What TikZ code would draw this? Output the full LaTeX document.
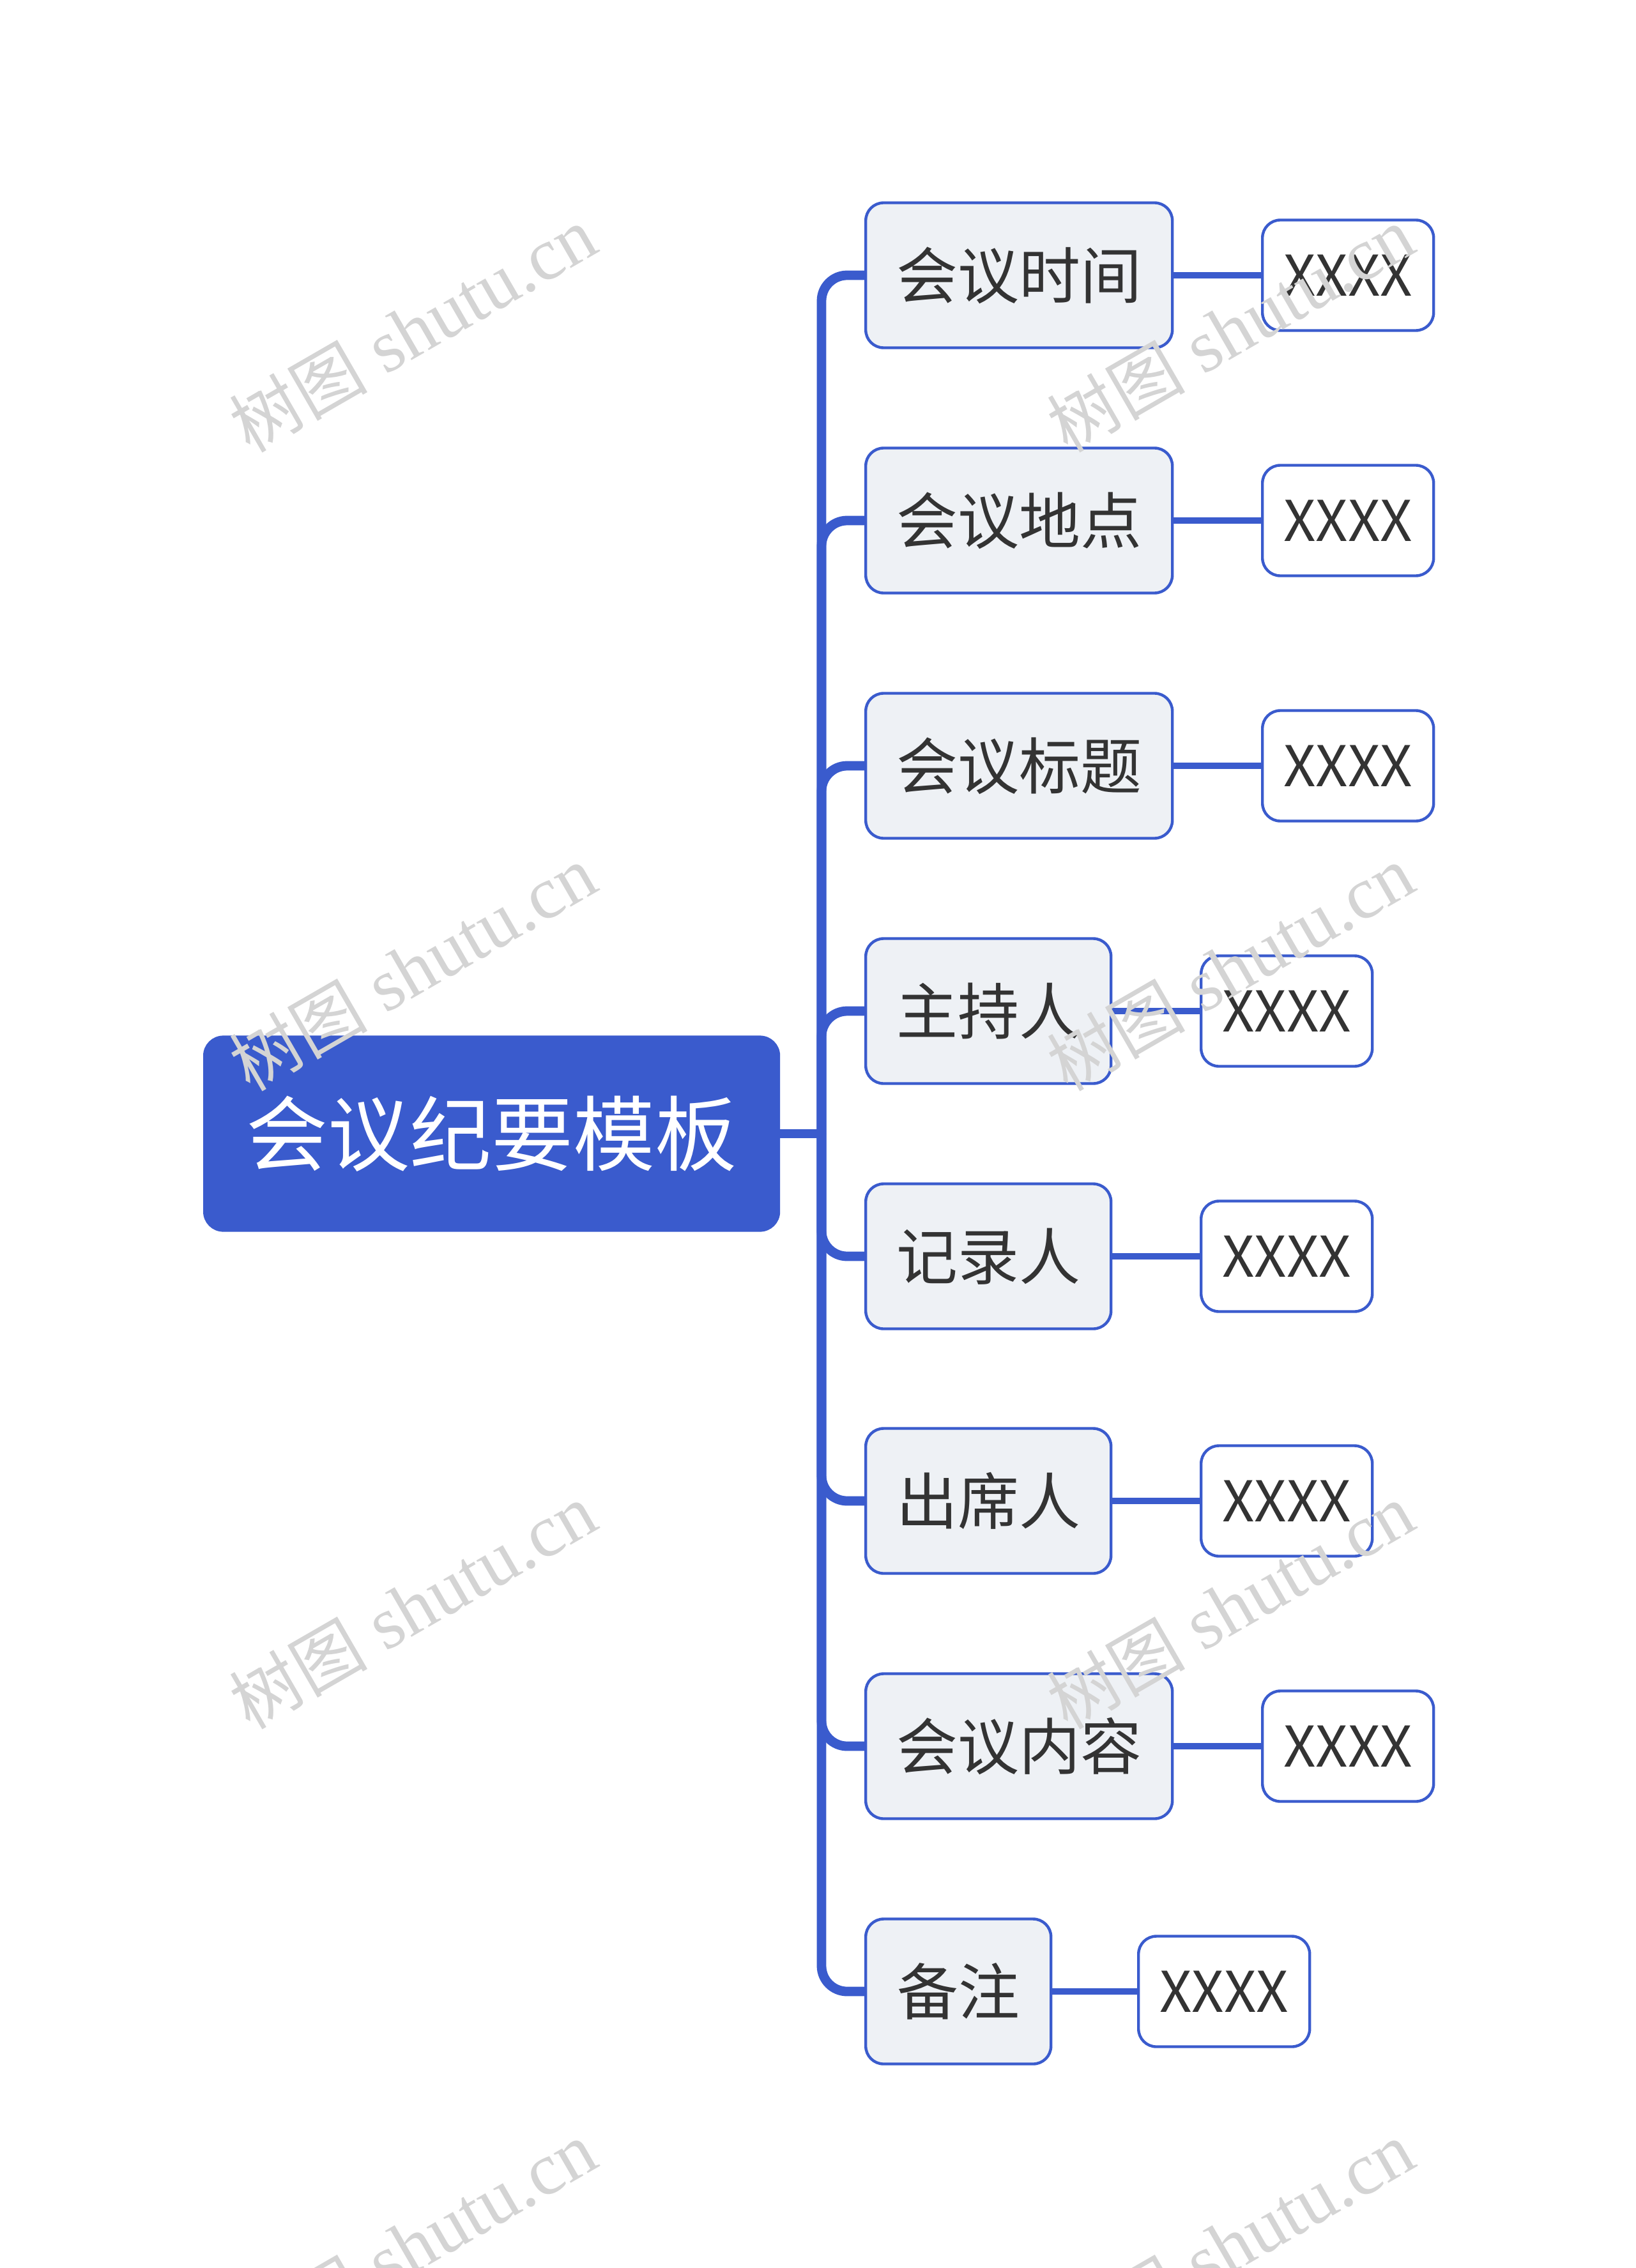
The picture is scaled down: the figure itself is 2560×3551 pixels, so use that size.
\documentclass[tikz,border=0pt]{standalone}
\usepackage{fontspec}
\usetikzlibrary{backgrounds}
\setmainfont{Liberation Serif}
\newfontfamily\cjk{Noto Sans CJK SC}
\definecolor{mblue}{HTML}{3A5BCD}
\definecolor{bfill}{HTML}{EEF1F5}
\definecolor{tdark}{HTML}{333333}
\definecolor{wmark}{HTML}{D4D4D4}
\tikzset{
  rootbox/.style={draw=mblue, fill=mblue, rounded corners=7.5pt, line width=0.8pt,
    minimum width=225pt, minimum height=76pt, inner sep=0pt, text=white,
    font=\cjk\fontsize{32}{36}\selectfont, anchor=west},
  branchbox/.style={draw=mblue, fill=bfill, rounded corners=7pt, line width=1.1pt,
    minimum height=56.75pt, inner sep=0pt, text=tdark,
    font=\cjk\fontsize{24}{28}\selectfont, anchor=west},
  leafbox/.style={draw=mblue, fill=white, rounded corners=7pt, line width=1.1pt,
    minimum width=67pt, minimum height=43.25pt, inner sep=0pt, text=tdark,
    font=\cjk\fontsize{22}{26}\selectfont, anchor=west},
  trunkline/.style={draw=mblue, line width=3.7pt, rounded corners=10pt},
  leafline/.style={draw=mblue, line width=2.5pt},
  wm/.style={text=wmark, rotate=30, font=\fontsize{29}{32}\selectfont, inner sep=0pt}
}
\begin{document}
\begin{tikzpicture}[x=0.25pt,y=-0.25pt]
\clip (0,0) rectangle (2560,3551);
\node[rootbox] (root) at (318,1775) {会议纪要模板};
\coordinate (j) at (1286,1775);

\node[branchbox, minimum width=120pt] (b1) at (1353,431) {会议时间};
\node[branchbox, minimum width=120pt] (b2) at (1353,815) {会议地点};
\node[branchbox, minimum width=120pt] (b3) at (1353,1199) {会议标题};
\node[branchbox, minimum width=96pt] (b4) at (1353,1583) {主持人};
\node[branchbox, minimum width=96pt] (b5) at (1353,1967) {记录人};
\node[branchbox, minimum width=96pt] (b6) at (1353,2350) {出席人};
\node[branchbox, minimum width=120pt] (b7) at (1353,2734) {会议内容};
\node[branchbox, minimum width=72.5pt] (b8) at (1353,3118) {备注};

\node[leafbox] (l1) at (1974,431) {XXXX};
\node[leafbox] (l2) at (1974,815) {XXXX};
\node[leafbox] (l3) at (1974,1199) {XXXX};
\node[leafbox] (l4) at (1878,1583) {XXXX};
\node[leafbox] (l5) at (1878,1967) {XXXX};
\node[leafbox] (l6) at (1878,2350) {XXXX};
\node[leafbox] (l7) at (1974,2734) {XXXX};
\node[leafbox] (l8) at (1780,3118) {XXXX};

\begin{pgfonlayer}{background}
\fill[white] (0,0) rectangle (2560,3551);
\draw[trunkline] (root.east) -- (j);
\foreach \b in {b1,b2,b3,b4,b5,b6,b7,b8}{
  \draw[trunkline] (j) |- (\b.west);
}
\foreach \i in {1,...,8}{
  \draw[leafline] (b\i.east) -- (l\i.west);
}
\end{pgfonlayer}

% watermarks
\foreach \wx/\wy [count=\k] in {646/516,1926/516,646/1516,1926/1516,646/2515,1926/2515,646/3514,1926/3514}{
  \node[wm] (w\k) at (\wx,\wy) {{\cjk\fontsize{27}{30}\selectfont 树图} shutu.cn};
}
\end{tikzpicture}
\end{document}
